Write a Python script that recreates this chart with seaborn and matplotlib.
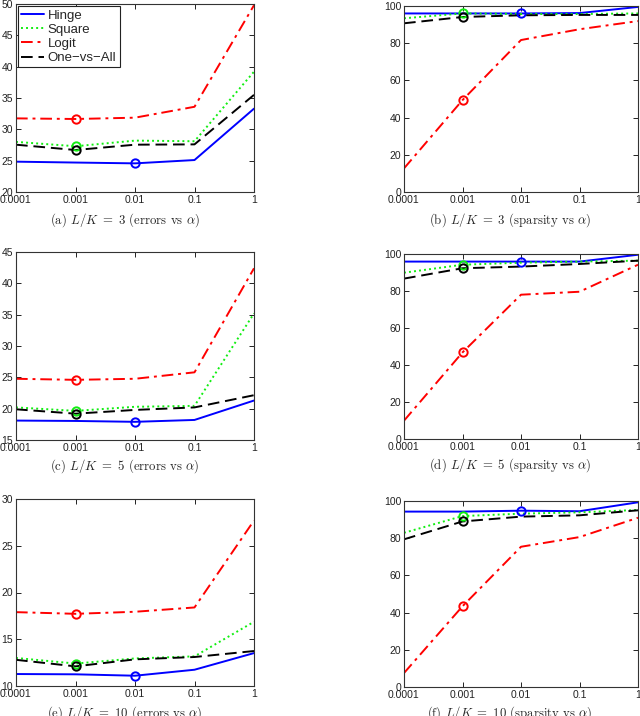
import matplotlib
matplotlib.use("Agg")
import matplotlib.pyplot as plt
import seaborn as sns

# | data |------------------------------------------------------------------
alphas = [1e-4, 1e-3, 1e-2, 1e-1, 1.0]
alpha_labels = ["0.0001", "0.001", "0.01", "0.1", "1"]
methods = ["Hinge", "Square", "Logit", "One\u2212vs\u2212All"]
best_idx = [2, 1, 1, 1]   # circled alpha per method

# L/K = 3
err_3_hinge = [24.84, 24.70, 24.57, 25.10, 33.30]
err_3_square = [28.00, 27.30, 28.20, 28.10, 39.20]
err_3_logit = [31.75, 31.65, 31.86, 33.60, 49.80]
err_3_ova = [27.55, 26.70, 27.55, 27.60, 35.50]
spa_3_hinge = [96.0, 96.0, 96.0, 96.2, 99.5]
spa_3_square = [93.4, 96.0, 95.7, 95.7, 96.0]
spa_3_logit = [12.7, 49.4, 81.7, 87.5, 91.9]
spa_3_ova = [90.7, 94.1, 95.0, 95.2, 95.2]

# L/K = 5
err_5_hinge = [18.10, 18.04, 17.90, 18.20, 21.30]
err_5_square = [20.20, 19.65, 20.30, 20.45, 35.20]
err_5_logit = [24.77, 24.60, 24.77, 25.80, 42.40]
err_5_ova = [19.90, 19.20, 19.80, 20.20, 22.15]
spa_5_hinge = [95.9, 95.9, 95.9, 95.9, 99.6]
spa_5_square = [89.9, 94.2, 95.3, 95.9, 96.4]
spa_5_logit = [9.9, 46.8, 78.0, 79.6, 94.2]
spa_5_ova = [86.7, 92.3, 93.2, 94.6, 96.4]

# L/K = 10
err_10_hinge = [11.28, 11.25, 11.10, 11.74, 13.52]
err_10_square = [13.00, 12.40, 12.95, 13.17, 16.87]
err_10_logit = [17.90, 17.72, 17.94, 18.40, 27.70]
err_10_ova = [12.80, 12.10, 12.85, 13.10, 13.74]
spa_10_hinge = [94.3, 94.3, 94.8, 94.5, 99.3]
spa_10_square = [82.9, 91.9, 93.2, 93.9, 95.2]
spa_10_logit = [7.5, 43.4, 75.4, 80.6, 91.0]
spa_10_ova = [79.4, 89.0, 91.6, 92.3, 95.0]

panels = [
    ([err_3_hinge, err_3_square, err_3_logit, err_3_ova], (20, 50), 5,
     r"(a) $L/K\ =\ 3$ (errors vs $\alpha$)"),
    ([spa_3_hinge, spa_3_square, spa_3_logit, spa_3_ova], (0, 100), 20,
     r"(b) $L/K\ =\ 3$ (sparsity vs $\alpha$)"),
    ([err_5_hinge, err_5_square, err_5_logit, err_5_ova], (15, 45), 5,
     r"(c) $L/K\ =\ 5$ (errors vs $\alpha$)"),
    ([spa_5_hinge, spa_5_square, spa_5_logit, spa_5_ova], (0, 100), 20,
     r"(d) $L/K\ =\ 5$ (sparsity vs $\alpha$)"),
    ([err_10_hinge, err_10_square, err_10_logit, err_10_ova], (10, 30), 5,
     r"(e) $L/K\ =\ 10$ (errors vs $\alpha$)"),
    ([spa_10_hinge, spa_10_square, spa_10_logit, spa_10_ova], (0, 100), 20,
     r"(f) $L/K\ =\ 10$ (sparsity vs $\alpha$)"),
]

# | style |-----------------------------------------------------------------
colors = ["#0000ff", "#11ee11", "#ff0000", "#000000"]
styles = ["-", (0, (1, 1.6)), (0, (6, 2.5, 1.5, 2.5)), (0, (6, 3))]

sns.set_theme(style="ticks")
plt.rcParams["font.family"] = ["Liberation Sans", "DejaVu Sans"]
plt.rcParams["mathtext.fontset"] = "cm"
plt.rcParams["xtick.direction"] = "in"
plt.rcParams["ytick.direction"] = "in"

W, H = 640, 716
fig = plt.figure(figsize=(W / 100, H / 100), dpi=100)

# axes boxes in pixels: left, top, right, bottom
boxes = [
    (16, 4, 254, 192), (404, 6, 638, 192),
    (16, 252, 254, 440), (404, 254, 638, 439),
    (16, 499, 254, 686), (404, 501, 638, 687),
]
captions_xy = [(125, 220), (510, 220), (125, 466), (510, 465), (125, 713), (510, 713)]

for k, (series, ylim, ystep, caption) in enumerate(panels):
    l, t, r, b = boxes[k]
    ax = fig.add_axes([l / W, 1 - b / H, (r - l) / W, (b - t) / H])
    handles = []
    for j, vals in enumerate(series):
        sns.lineplot(x=alphas, y=vals, ax=ax, color=colors[j], linestyle=styles[j],
                     linewidth=1.4, label=methods[j], legend=False)
        handles.append(ax.get_lines()[-1])
    for j, vals in enumerate(series):
        i = best_idx[j]
        ax.plot(alphas[i], vals[i], "o", mfc="none", mec=colors[j], mew=1.4, ms=6)

    ax.set_xscale("log")
    ax.set_xlim(alphas[0], alphas[-1])
    ax.set_ylim(*ylim)
    ax.set_xticks(alphas)
    ax.set_xticklabels(alpha_labels)
    ax.minorticks_off()
    ax.set_yticks(range(ylim[0], ylim[1] + 1, ystep))
    ax.tick_params(which="both", top=True, right=True, length=3.5, width=0.7,
                   labelsize=7.5, pad=2, colors="#222222")
    for sp in ax.spines.values():
        sp.set_visible(True)
        sp.set_linewidth(0.8)
        sp.set_color("#333333")
    ax.set_xlabel("")
    ax.set_ylabel("")

    if k == 0:
        leg = ax.legend(handles=handles, labels=methods, loc="upper left",
                        fontsize=9.5, handlelength=1.7, handletextpad=0.3,
                        labelspacing=0.15, borderpad=0.25, borderaxespad=0.15,
                        fancybox=False, framealpha=1)
        leg.get_frame().set_edgecolor("#222222")
        leg.get_frame().set_linewidth(0.8)

    cx, cy = captions_xy[k]
    fig.text(cx / W, 1 - cy / H, caption, ha="center", va="center",
             fontsize=9.2, family="cmr10")

fig.savefig("out.png", dpi=100)
